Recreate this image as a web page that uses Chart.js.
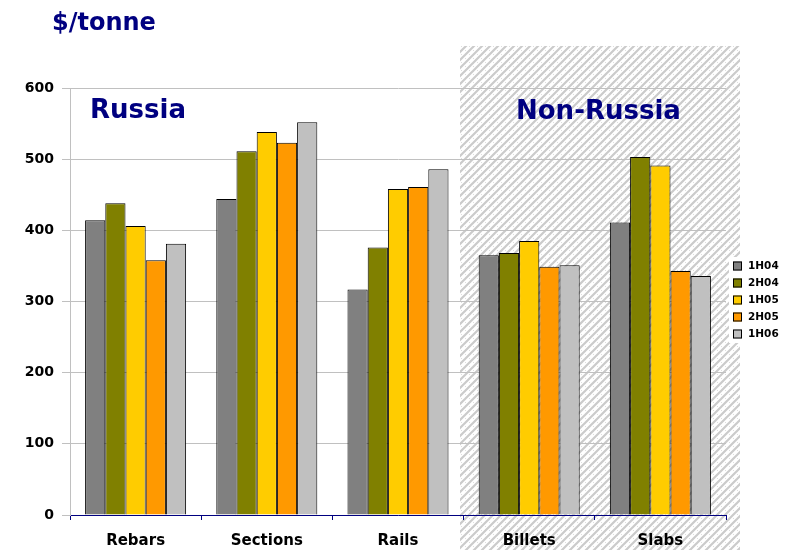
<!DOCTYPE html>
<html>
<head>
<meta charset="utf-8">
<script src="https://cdn.jsdelivr.net/npm/chart.js@4"></script>
<style>
  html, body { margin: 0; padding: 0; background: #fff; }
  #wrap { width: 791px; height: 550px; position: relative; }
</style>
</head>
<body>
<div id="wrap"><canvas id="chart-prices"></canvas></div>
<script>
// categories and half-year series, $/tonne
const products = ['Rebars', 'Sections', 'Rails', 'Billets', 'Slabs'];
const periods  = ['1H04', '2H04', '1H05', '2H05', '1H06'];
const h104 = [414, 444, 317, 365, 411];
const h204 = [438, 511, 376, 368, 503];
const h105 = [406, 538, 458, 385, 491];
const h205 = [358, 523, 461, 349, 343];
const h106 = [381, 552, 486, 351, 336];
const yTicks = [0, 100, 200, 300, 400, 500, 600];

const colors = ['#808080', '#808000', '#FFCC00', '#FF9900', '#C0C0C0'];
const series = [h104, h204, h105, h205, h106];
const NAVY = '#000080';
const FONT = '"DejaVu Sans", Verdana, sans-serif';

function hatchPattern(ctx) {
  const c = document.createElement('canvas');
  c.width = 8; c.height = 8;
  const p = c.getContext('2d');
  p.strokeStyle = 'rgba(185,185,185,0.75)';
  p.lineWidth = 2.2;
  p.beginPath();
  p.moveTo(-1, 9); p.lineTo(9, -1);
  p.moveTo(-1, 1); p.lineTo(1, -1);
  p.moveTo(7, 9); p.lineTo(9, 7);
  p.stroke();
  // speckle for the printed-texture look
  p.fillStyle = 'rgba(200,200,200,0.6)';
  p.fillRect(1, 2, 1, 1);
  p.fillRect(5, 6, 1, 1);
  return ctx.createPattern(c, 'repeat');
}

// shaded "Non-Russia" panel behind everything
const shadePanel = {
  id: 'shadePanel',
  beforeDraw(chart) {
    const { ctx } = chart;
    ctx.save();
    ctx.fillStyle = hatchPattern(ctx);
    ctx.fillRect(460, 46, 280, 504);
    ctx.restore();
  }
};

// region titles, axis unit and legend
const extras = {
  id: 'extras',
  afterDraw(chart) {
    const { ctx } = chart;
    ctx.save();
    ctx.fillStyle = NAVY;
    ctx.textBaseline = 'alphabetic';
    ctx.font = 'bold 24px ' + FONT;
    ctx.fillText('$/tonne', 52, 30);
    ctx.font = 'bold 26px ' + FONT;
    ctx.fillText('Russia', 90, 118);
    ctx.fillText('Non-Russia', 516, 119);

    // legend
    ctx.fillStyle = '#fff';
    ctx.fillRect(729, 257, 62, 86);
    ctx.font = 'bold 10.5px ' + FONT;
    ctx.textBaseline = 'middle';
    periods.forEach((p, i) => {
      const y = 266 + i * 17;
      ctx.fillStyle = colors[i];
      ctx.fillRect(733, y - 4.5, 9, 9);
      ctx.strokeStyle = '#000';
      ctx.lineWidth = 1;
      ctx.strokeRect(733.5, y - 4, 8, 8);
      ctx.fillStyle = '#000';
      ctx.fillText(p, 748, y + 0.5);
    });
    ctx.restore();
  }
};

new Chart(document.getElementById('chart-prices'), {
  type: 'bar',
  data: {
    labels: products,
    datasets: series.map((d, i) => ({
      label: periods[i],
      data: d,
      backgroundColor: colors[i],
      borderColor: '#000',
      borderWidth: 1,
      categoryPercentage: 0.77,
      barPercentage: 1
    }))
  },
  options: {
    responsive: true,
    maintainAspectRatio: false,
    animation: false,
    layout: { padding: { top: 88, right: 65, left: 0, bottom: 0 } },
    plugins: {
      legend: { display: false },
      tooltip: { enabled: false }
    },
    scales: {
      x: {
        afterFit: s => { s.height = 35; },
        grid: {
          offset: true,
          drawOnChartArea: false,
          drawTicks: true,
          tickLength: 5,
          color: NAVY
        },
        border: { color: NAVY, width: 1 },
        ticks: {
          color: '#000',
          padding: 12,
          font: { family: FONT, size: 15, weight: 'bold' }
        }
      },
      y: {
        min: 0,
        max: 600,
        afterFit: s => { s.width = 70; },
        afterBuildTicks: s => { s.ticks = yTicks.map(v => ({ value: v })); },
        grid: {
          color: '#C0C0C0',
          tickLength: 8
        },
        border: { color: '#C0C0C0' },
        ticks: {
          color: '#000',
          padding: 8,
          font: { family: FONT, size: 14, weight: 'bold' }
        }
      }
    }
  },
  plugins: [shadePanel, extras]
});
</script>
</body>
</html>
